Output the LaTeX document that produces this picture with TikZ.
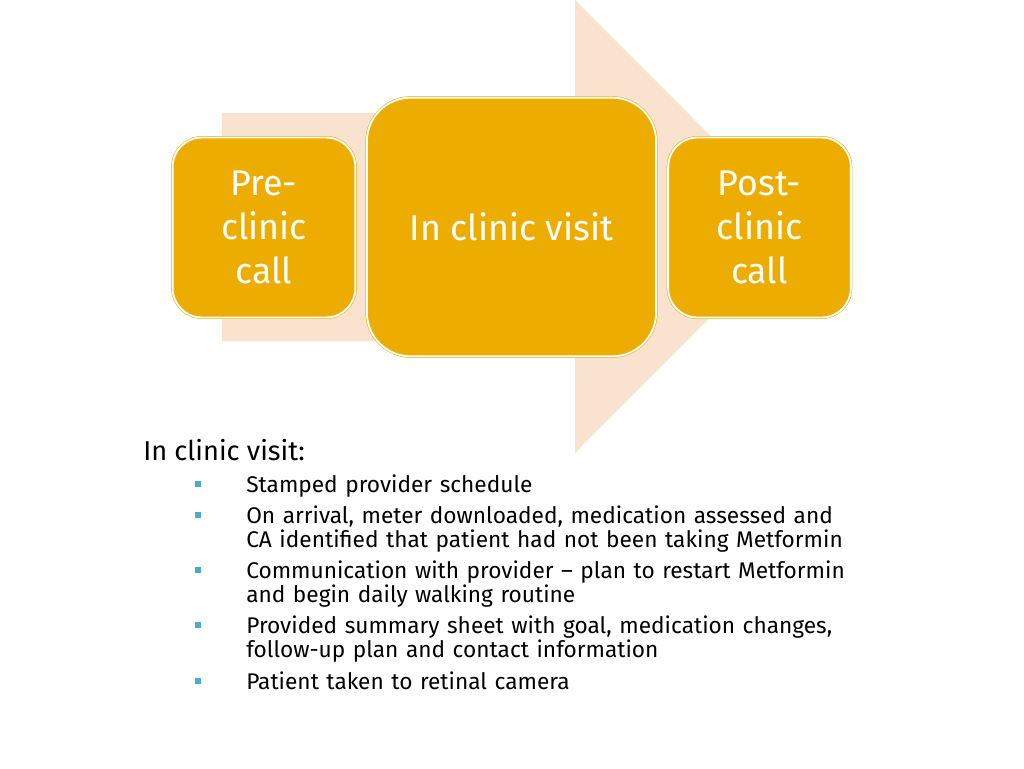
\documentclass[tikz,border=0pt]{standalone}
\usepackage{fontspec}
\setmainfont{Fira Sans}
\definecolor{gold}{HTML}{EDAD00}
\definecolor{peach}{HTML}{F9E3CF}
\definecolor{bulletteal}{HTML}{4BACC6}
\tikzset{
  stagebox/.style={fill=gold, draw=gold, double=white, double distance=1.4pt, line width=0.4pt,
    text=white, align=center, inner sep=0pt, font=\fontsize{26.8}{33}\selectfont},
  small/.style={stagebox, minimum width=137pt, minimum height=135pt, rounded corners=22pt},
  big/.style={stagebox, minimum width=217pt, minimum height=194pt, rounded corners=33pt},
  bul/.style={fill=bulletteal, inner sep=0pt, minimum size=4.5pt},
  item/.style={anchor=base west, align=left, inner sep=0pt, text width=500pt,
    font=\fontsize{17}{18}\selectfont, text=black},
}
\begin{document}
\begin{tikzpicture}[x=0.75pt,y=-0.75pt]
\useasboundingbox[fill=white] (0,0) rectangle (1024,768);
\fill[peach] (222,113) -- (575,113) -- (575,0) -- (801,226.5) -- (575,453) -- (575,341) -- (222,341) -- cycle;
\node[small] (pre) at (264,227.5) {Pre-\\clinic\\call};
\node[big] (in) at (511.5,227) {In clinic visit};
\node[small] (post) at (759.5,227.5) {Post-\\clinic\\call};
\node[anchor=base west, inner sep=0pt, font=\fontsize{20.4}{22}\selectfont] (title) at (143,460) {In clinic visit:};
\node[bul] (b1) at (198,484) {};
\node[bul] (b2) at (198,515) {};
\node[bul] (b3) at (198,570) {};
\node[bul] (b4) at (198,625) {};
\node[bul] (b5) at (198,681) {};
\node[item] (t1) at (246,492) {Stamped provider schedule};
\node[item] (t2) at (246,523) {On arrival, meter downloaded, medication assessed and\\CA identified that patient had not been taking Metformin};
\node[item] (t3) at (246,578) {Communication with provider -- plan to restart Metformin\\and begin daily walking routine};
\node[item] (t4) at (246,633) {Provided summary sheet with goal, medication changes,\\follow-up plan and contact information};
\node[item] (t5) at (246,689) {Patient taken to retinal camera};
\end{tikzpicture}
\end{document}
